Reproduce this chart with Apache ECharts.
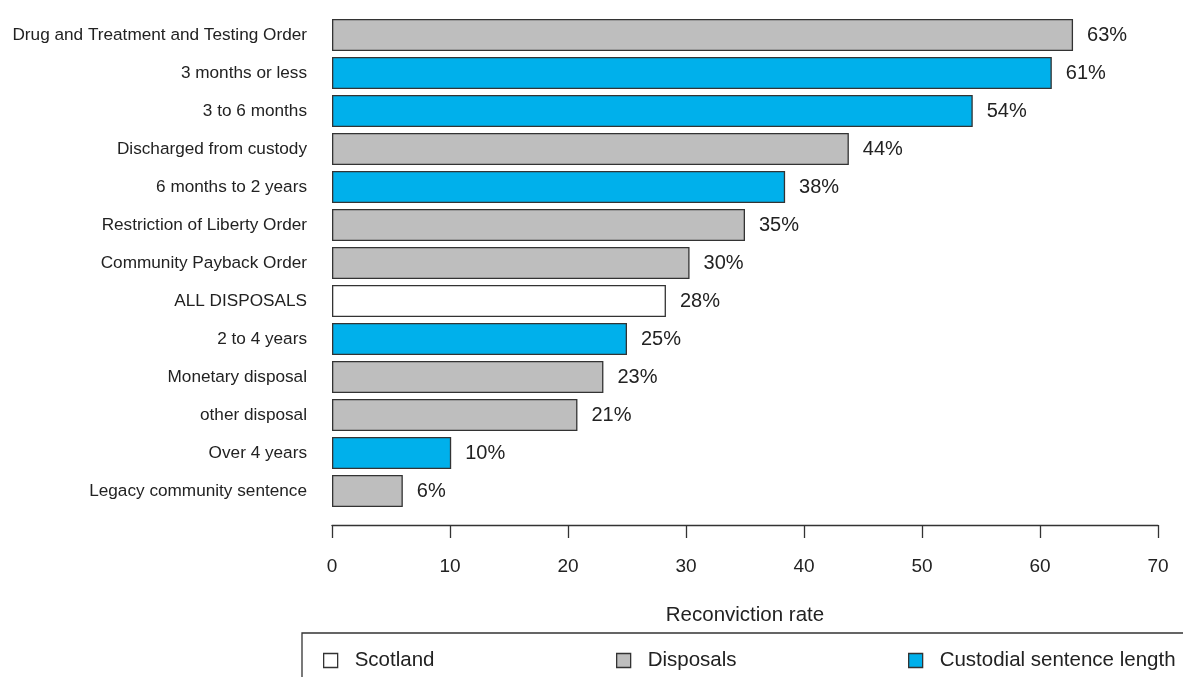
<!DOCTYPE html>
<html><head><meta charset="utf-8">
<script src="https://cdn.jsdelivr.net/npm/echarts@6/dist/echarts.min.js"></script>
<style>html,body{margin:0;padding:0;background:#fff}#c{width:1183px;height:677px}</style>
</head><body><div id="c"></div>
<script>
const categories = ["Drug and Treatment and Testing Order","3 months or less","3 to 6 months","Discharged from custody","6 months to 2 years","Restriction of Liberty Order","Community Payback Order","ALL DISPOSALS","2 to 4 years","Monetary disposal","other disposal","Over 4 years","Legacy community sentence"];
const values = [62.8, 61.0, 54.3, 43.8, 38.4, 35.0, 30.3, 28.3, 25.0, 23.0, 20.8, 10.1, 6.0];
const groups = ["Disposals","Custodial sentence length","Custodial sentence length","Disposals","Custodial sentence length","Disposals","Disposals","Scotland","Custodial sentence length","Disposals","Disposals","Custodial sentence length","Disposals"];
const groupNames = ["Scotland","Disposals","Custodial sentence length"];
const groupColors = {"Scotland":"#ffffff","Disposals":"#bebebe","Custodial sentence length":"#00b0eb"};
const xTicks = [0,10,20,30,40,50,60,70];

const font = "'Liberation Sans', Arial, sans-serif";
const series = groupNames.map(g => ({
  name: g,
  type: 'bar',
  barGap: '-100%',
  barWidth: 32,
  itemStyle: { color: groupColors[g], borderColor: '#333', borderWidth: 1.3 },
  label: { show: true, position: 'right', distance: 14, fontSize: 20, color: '#222', fontFamily: font,
    formatter: p => Math.round(p.value) + '%' },
  data: values.map((v,i) => groups[i] === g ? v : '-')
}));
const legendLefts = [318, 611, 903];
const chart = echarts.init(document.getElementById('c'));
chart.setOption({
  animation: false,
  grid: { left: 332, right: 25, top: 16, bottom: 167, containLabel: false },
  xAxis: {
    type: 'value', min: xTicks[0], max: xTicks[xTicks.length-1], interval: 10,
    offset: 15,
    name: 'Reconviction rate', nameLocation: 'middle', nameGap: 80,
    nameTextStyle: { fontSize: 20.5, color: '#222', fontFamily: font },
    axisLine: { show: true, lineStyle: { color: '#333', width: 1.3 } },
    axisTick: { show: true, length: 13, lineStyle: { color: '#333', width: 1.3 } },
    axisLabel: { fontSize: 19, color: '#222', margin: 32, fontFamily: font },
    splitLine: { show: false }
  },
  yAxis: {
    type: 'category', data: categories, inverse: true,
    axisLine: { show: false }, axisTick: { show: false },
    axisLabel: { fontSize: 17.2, color: '#222', margin: 25, fontFamily: font }
  },
  legend: groupNames.map((g,i) => ({
    data: [g], left: legendLefts[i], top: 645, icon: 'rect', itemWidth: 14, itemHeight: 14,
    itemGap: 0, itemStyle: { borderColor: '#333', borderWidth: 1.3 },
    textStyle: { fontSize: 20.5, color: '#222', fontFamily: font, padding: [0,0,0,12] },
    selectedMode: false
  })),
  graphic: [{ type: 'rect', shape: { x: 302, y: 633, width: 900, height: 60 },
    style: { fill: 'none', stroke: '#333', lineWidth: 1.3 }, silent: true }],
  series: series
});
</script></body></html>
